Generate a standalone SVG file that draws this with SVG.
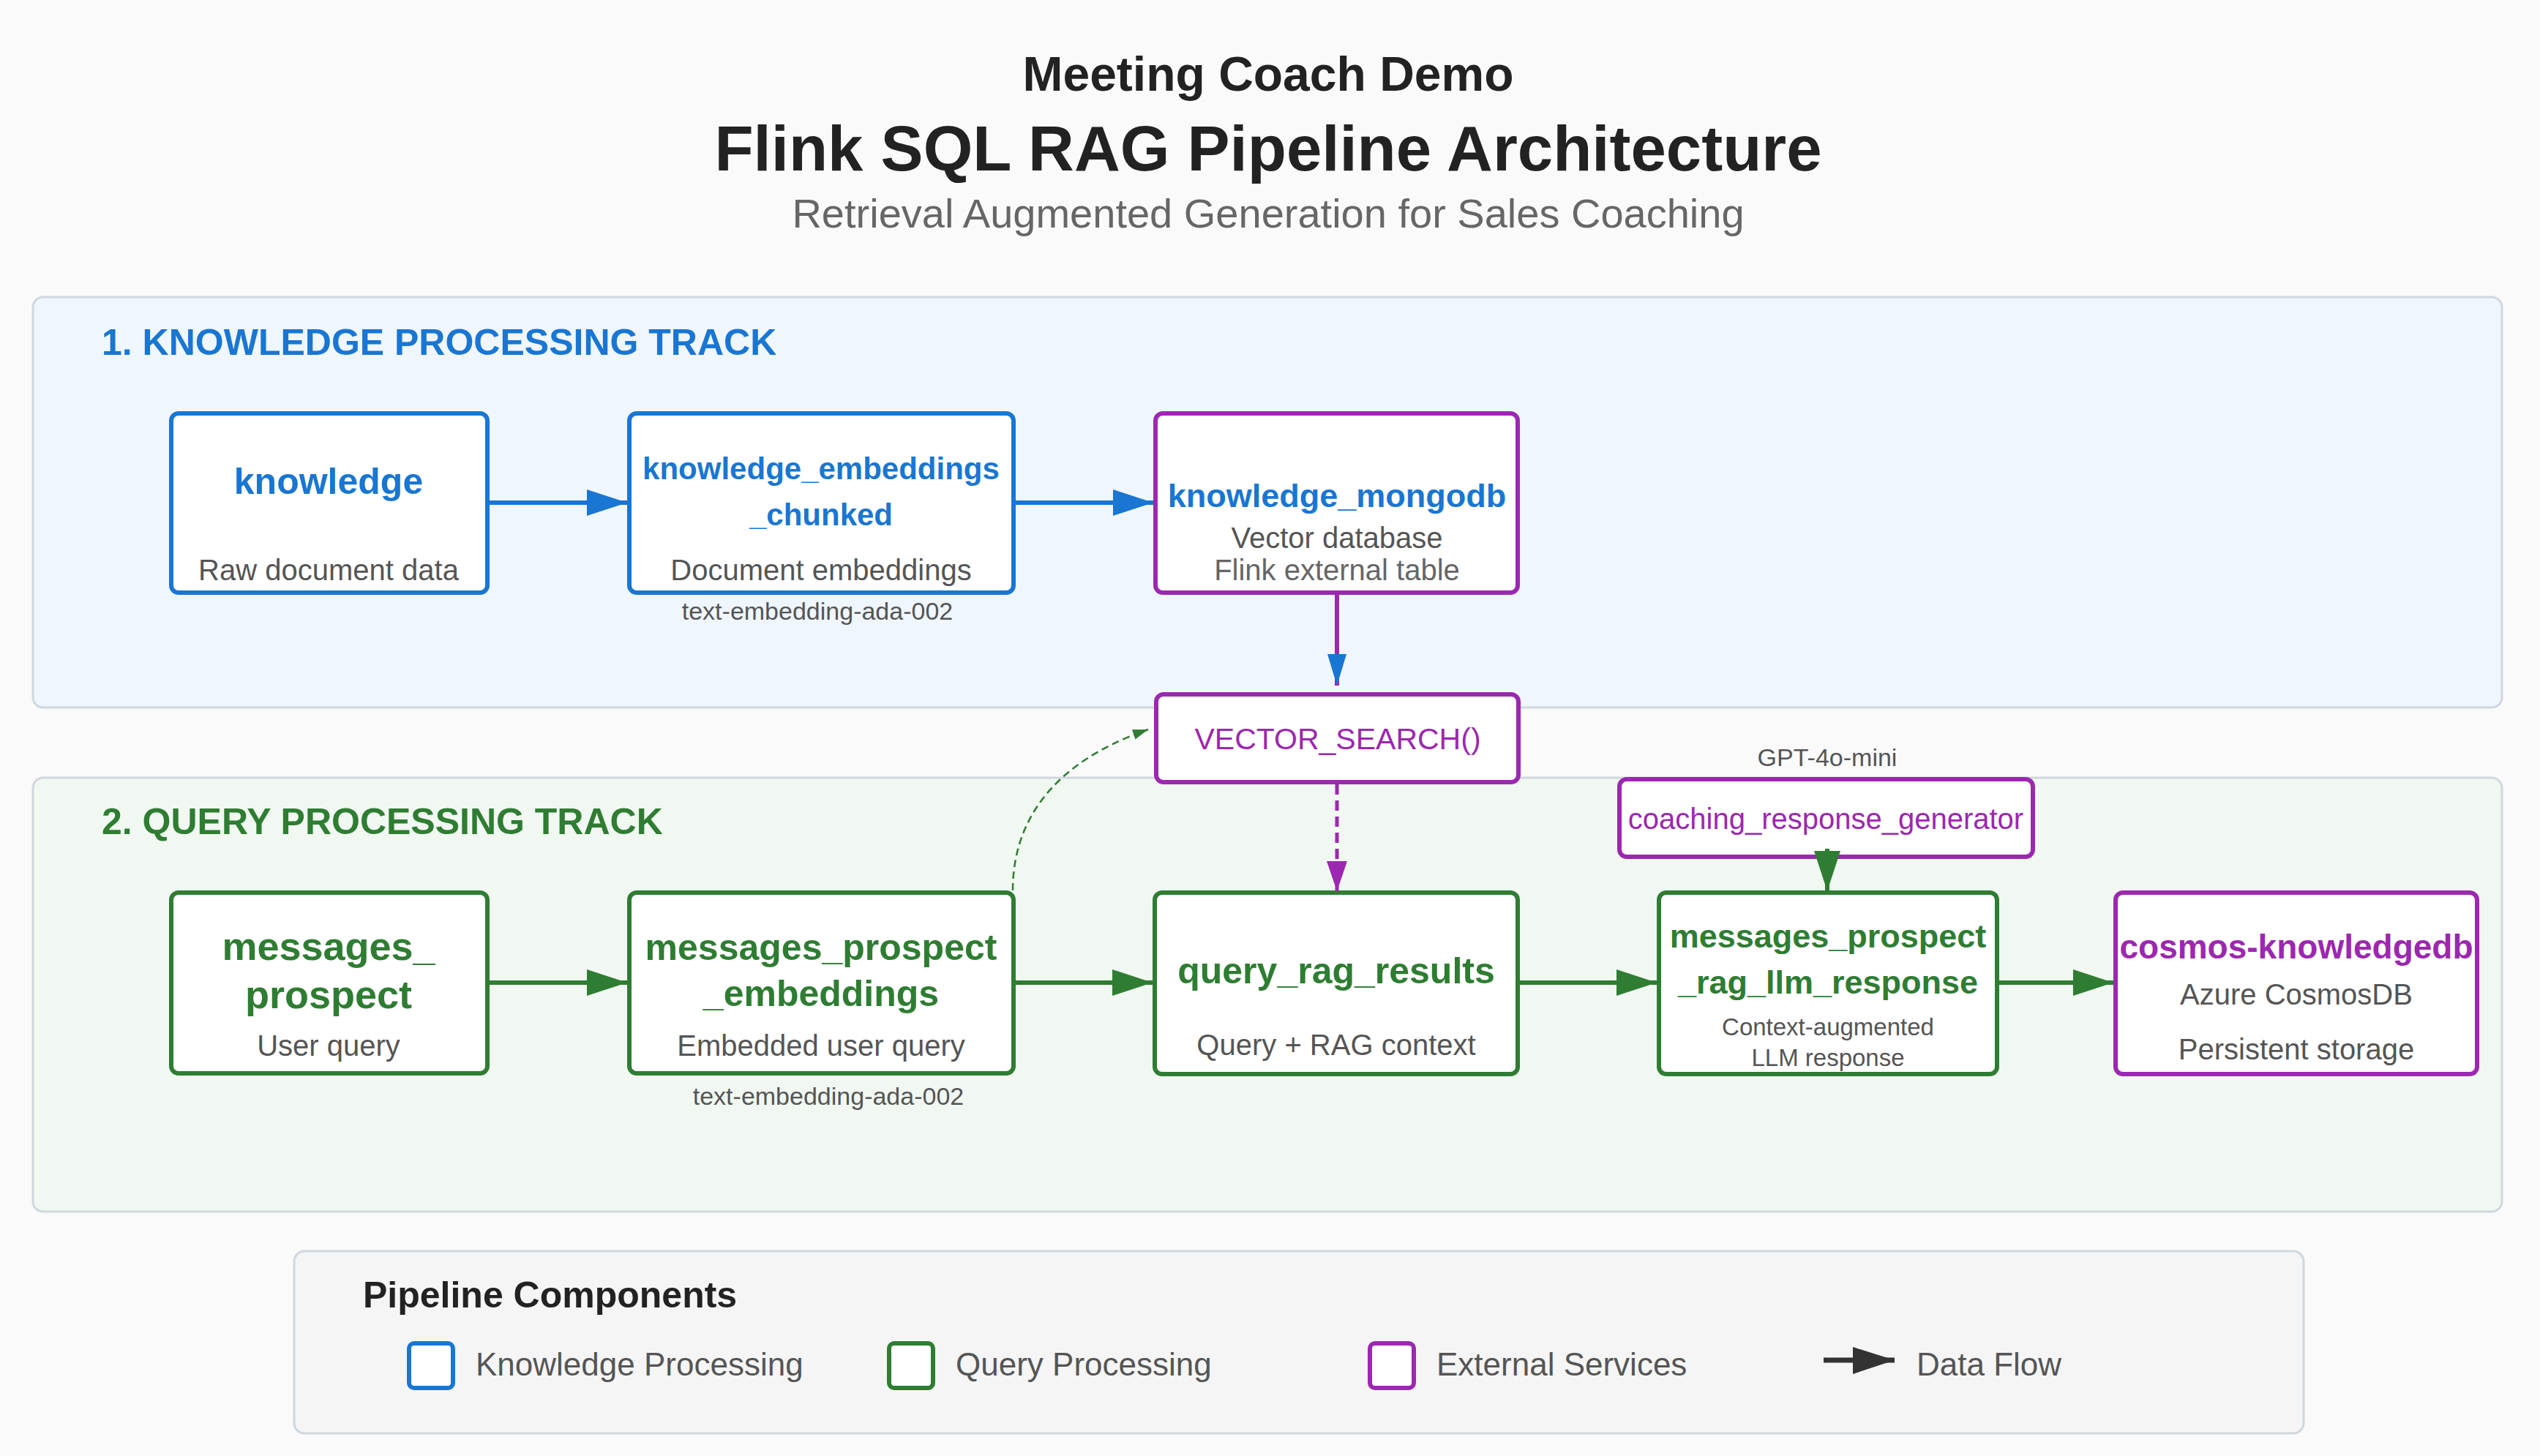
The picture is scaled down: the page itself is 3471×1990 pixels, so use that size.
<svg xmlns="http://www.w3.org/2000/svg" width="3471" height="1990" viewBox="0 0 3471 1990">
<defs>
<style>
text{font-family:"Liberation Sans",Arial,Helvetica,sans-serif}
.node{fill:#ffffff;stroke-width:6}
.kb{stroke:#1976d2}.qb{stroke:#2e7d32}.eb{stroke:#9c27b0}
.t-k{fill:#1976d2;font-weight:bold}
.t-q{fill:#2e7d32;font-weight:bold}
.t-e{fill:#9c27b0}
.sub{fill:#555555;font-size:40px}
.small{fill:#555555;font-size:34px}
.panel{stroke:#d0d7de;stroke-width:3}
.c{text-anchor:middle}
</style>
<marker id="ah-blue" markerUnits="userSpaceOnUse" markerWidth="56" markerHeight="38" refX="55" refY="18" orient="auto"><path d="M0,0 L55,18 L0,36 Z" fill="#1976d2"/></marker>
<marker id="ah-blue-s" markerUnits="userSpaceOnUse" markerWidth="44" markerHeight="28" refX="43" refY="13" orient="auto"><path d="M0,0 L43,13 L0,26 Z" fill="#1976d2"/></marker>
<marker id="ah-green" markerUnits="userSpaceOnUse" markerWidth="56" markerHeight="38" refX="55" refY="18" orient="auto"><path d="M0,0 L55,18 L0,36 Z" fill="#2e7d32"/></marker>
<marker id="ah-purple" markerUnits="userSpaceOnUse" markerWidth="42" markerHeight="30" refX="41" refY="14" orient="auto"><path d="M0,0 L41,14 L0,28 Z" fill="#9c27b0"/></marker>
<marker id="ah-green-s" markerUnits="userSpaceOnUse" markerWidth="22" markerHeight="16" refX="21" refY="7" orient="auto"><path d="M0,0 L21,7 L0,14 Z" fill="#2e7d32"/></marker>
<marker id="ah-dark" markerUnits="userSpaceOnUse" markerWidth="58" markerHeight="38" refX="57" refY="18" orient="auto"><path d="M0,0 L57,18 L0,37 Z" fill="#333333"/></marker>
</defs>
<rect width="3471" height="1990" fill="#fafafa"/>

<g id="titles">
<text x="1733" y="124" class="c" font-size="66" font-weight="bold" fill="#222222">Meeting Coach Demo</text>
<text x="1733" y="233" class="c" font-size="87" font-weight="bold" fill="#222222">Flink SQL RAG Pipeline Architecture</text>
<text x="1733" y="311" class="c" font-size="56" fill="#666666">Retrieval Augmented Generation for Sales Coaching</text>
</g>

<g id="panel-knowledge">
<rect x="45" y="406" width="3374" height="561" rx="14" class="panel" fill="#eff6fe"/>
<text x="139" y="485" font-size="50" font-weight="bold" fill="#1976d2">1. KNOWLEDGE PROCESSING TRACK</text>
</g>
<g id="panel-query">
<rect x="45" y="1063" width="3374" height="593" rx="14" class="panel" fill="#f1f8f1"/>
<text x="139" y="1140" font-size="50" font-weight="bold" fill="#2e7d32">2. QUERY PROCESSING TRACK</text>
</g>

<g id="node-knowledge">
<rect x="234" y="565" width="432" height="245" rx="10" class="node kb"/>
<text x="449" y="675" class="c t-k" font-size="50">knowledge</text>
<text x="449" y="793" class="c sub">Raw document data</text>
</g>
<g id="node-knowledge-embeddings-chunked">
<rect x="860" y="565" width="525" height="245" rx="10" class="node kb"/>
<text x="1122" y="655" class="c t-k" font-size="42">knowledge_embeddings</text>
<text x="1122" y="718" class="c t-k" font-size="42">_chunked</text>
<text x="1122" y="793" class="c sub">Document embeddings</text>
<text x="1117" y="847" class="c small">text-embedding-ada-002</text>
</g>
<g id="node-knowledge-mongodb">
<rect x="1579" y="565" width="495" height="245" rx="10" class="node eb"/>
<text x="1827" y="693" class="c t-k" font-size="45">knowledge_mongodb</text>
<text x="1827" y="749" class="c sub">Vector database</text>
<text x="1827" y="793" class="c sub" style="fill:#666666">Flink external table</text>
</g>
<g id="node-vector-search">
<rect x="1580" y="949" width="495" height="120" rx="10" class="node eb"/>
<text x="1828" y="1024" class="c t-e" font-size="41">VECTOR_SEARCH()</text>
</g>

<g id="node-messages-prospect">
<rect x="234" y="1220" width="432" height="247" rx="10" class="node qb"/>
<text x="449" y="1312" class="c t-q" font-size="54">messages_</text>
<text x="449" y="1378" class="c t-q" font-size="54">prospect</text>
<text x="449" y="1443" class="c sub">User query</text>
</g>
<g id="node-messages-prospect-embeddings">
<rect x="860" y="1220" width="525" height="247" rx="10" class="node qb"/>
<text x="1122" y="1312" class="c t-q" font-size="50">messages_prospect</text>
<text x="1122" y="1375" class="c t-q" font-size="50">_embeddings</text>
<text x="1122" y="1443" class="c sub">Embedded user query</text>
<text x="1132" y="1510" class="c small">text-embedding-ada-002</text>
</g>
<g id="node-query-rag-results">
<rect x="1578" y="1220" width="496" height="248" rx="10" class="node qb"/>
<text x="1826" y="1344" class="c t-q" font-size="50">query_rag_results</text>
<text x="1826" y="1442" class="c sub">Query + RAG context</text>
</g>
<g id="node-coaching-response-generator">
<text x="2497" y="1047" class="c small" style="font-size:34px">GPT-4o-mini</text>
<rect x="2213" y="1065" width="565" height="106" rx="10" class="node eb"/>
<text x="2495" y="1133" class="c t-e" font-size="40">coaching_response_generator</text>
</g>
<g id="node-messages-prospect-rag-llm-response">
<rect x="2267" y="1220" width="462" height="248" rx="10" class="node qb"/>
<text x="2498" y="1295" class="c t-q" font-size="45">messages_prospect</text>
<text x="2498" y="1358" class="c t-q" font-size="45">_rag_llm_response</text>
<text x="2498" y="1415" class="c small" style="font-size:33px">Context-augmented</text>
<text x="2498" y="1457" class="c small" style="font-size:33px">LLM response</text>
</g>
<g id="node-cosmos-knowledgedb">
<rect x="2891" y="1220" width="494" height="248" rx="10" class="node eb"/>
<text x="3138" y="1310" class="c t-e" font-size="46" font-weight="bold">cosmos-knowledgedb</text>
<text x="3138" y="1373" class="c sub">Azure CosmosDB</text>
<text x="3138" y="1448" class="c sub">Persistent storage</text>
</g>

<g id="connectors" fill="none">
<line x1="668" y1="687" x2="857" y2="687" stroke="#1976d2" stroke-width="6" marker-end="url(#ah-blue)"/>
<line x1="1388" y1="687" x2="1576" y2="687" stroke="#1976d2" stroke-width="6" marker-end="url(#ah-blue)"/>
<line x1="1827" y1="813" x2="1827" y2="937" stroke="#9c27b0" stroke-width="6" marker-end="url(#ah-blue-s)"/>
<line x1="1827" y1="1072" x2="1827" y2="1218" stroke="#9c27b0" stroke-width="5" stroke-dasharray="14 8" marker-end="url(#ah-purple)"/>
<path d="M1384,1217 C1384,1130 1430,1045 1569,997" stroke="#2e7d32" stroke-width="2.5" stroke-dasharray="10 6" marker-end="url(#ah-green-s)"/>
<line x1="668" y1="1343" x2="857" y2="1343" stroke="#2e7d32" stroke-width="6" marker-end="url(#ah-green)"/>
<line x1="1388" y1="1343" x2="1575" y2="1343" stroke="#2e7d32" stroke-width="6" marker-end="url(#ah-green)"/>
<line x1="2076" y1="1343" x2="2264" y2="1343" stroke="#2e7d32" stroke-width="6" marker-end="url(#ah-green)"/>
<line x1="2731" y1="1343" x2="2888" y2="1343" stroke="#2e7d32" stroke-width="6" marker-end="url(#ah-green)"/>
<line x1="2497" y1="1160" x2="2497" y2="1218" stroke="#2e7d32" stroke-width="6" marker-end="url(#ah-green)"/>
</g>

<g id="legend">
<rect x="402" y="1710" width="2746" height="249" rx="14" fill="#f5f5f5" stroke="#d0d7de" stroke-width="3"/>
<text x="496" y="1787" font-size="50" font-weight="bold" fill="#222222">Pipeline Components</text>
<rect x="559" y="1836" width="60" height="61" rx="7" class="node kb"/>
<text x="650" y="1880" font-size="44" fill="#555555">Knowledge Processing</text>
<rect x="1215" y="1836" width="60" height="61" rx="7" class="node qb"/>
<text x="1306" y="1880" font-size="44" fill="#555555">Query Processing</text>
<rect x="1872" y="1836" width="60" height="61" rx="7" class="node eb"/>
<text x="1963" y="1880" font-size="44" fill="#555555">External Services</text>
<line x1="2492" y1="1859" x2="2589" y2="1859" stroke="#333333" stroke-width="7" marker-end="url(#ah-dark)"/>
<text x="2619" y="1880" font-size="44" fill="#555555">Data Flow</text>
</g>
</svg>
